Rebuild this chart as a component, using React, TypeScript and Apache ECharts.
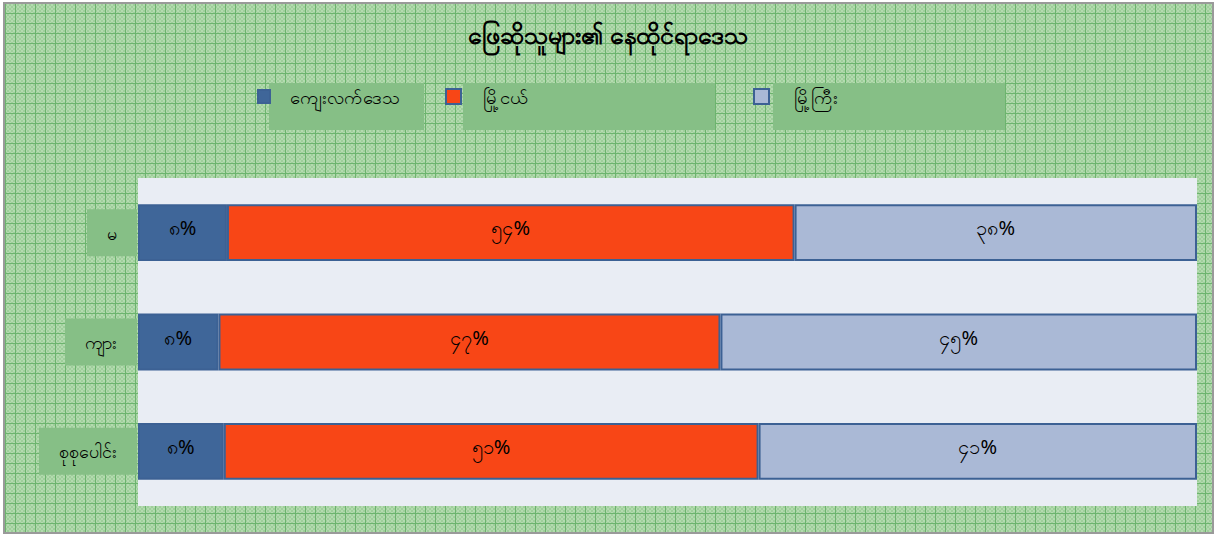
import React, { useEffect, useRef } from "react";
import * as echarts from "echarts";

const title = "ဖြေဆိုသူများ၏ နေထိုင်ရာဒေသ";
const categories = ["မ", "ကျား", "စုစုပေါင်း"];
const seriesNames = ["ကျေးလက်ဒေသ", "မြို့ငယ်", "မြို့ကြီး"];
const rural = [8.4, 7.6, 8.1];
const smallTown = [53.6, 47.4, 50.5];
const city = [38.0, 45.0, 41.4];
const seriesValues = [rural, smallTown, city];
const colors = ["#3F6699", "#F84616", "#AAB9D6"];

const mmDigits = "၀၁၂၃၄၅၆၇၈၉";
const toMM = (n: number) =>
  String(n).replace(/[0-9]/g, (d) => mmDigits[Number(d)]);

const legendIcons = [
  { left: 257, top: 90, w: 12, h: 13, pad: 15 },
  { left: 445, top: 89, w: 15, h: 15, pad: 17 },
  { left: 753, top: 89, w: 15, h: 15, pad: 20 },
];
const legendBoxes = [
  { x: 269, w: 155 },
  { x: 463, w: 252 },
  { x: 773, w: 232 },
];

export default function App() {
  const ref = useRef<HTMLDivElement>(null);
  useEffect(() => {
    document.body.style.margin = "0";
    if (!ref.current) return;
    const chart = echarts.init(ref.current, undefined, { renderer: "svg" });
    const boxFill = "#86BF86";
    chart.setOption({
      animation: false,
      title: {
        text: title,
        left: "center",
        top: 16,
        textStyle: {
          fontSize: 25,
          fontWeight: "bold",
          color: "#000",
          fontFamily: "Noto Sans, sans-serif",
        },
      },
      graphic: legendBoxes.map((b) => ({
        type: "rect",
        z: 0,
        shape: { x: b.x, y: 83, width: b.w, height: 47 },
        style: { fill: boxFill },
        silent: true,
      })),
      legend: seriesNames.map((name, i) => {
        const ic = legendIcons[i];
        const lh = 22;
        const padTop = 23;
        const boxH = lh + padTop;
        const center = ic.top + ic.h / 2;
        return {
          data: [name],
          left: ic.left,
          top: Math.round(center - boxH / 2),
          padding: 0,
          z: 5,
          icon: "rect",
          itemWidth: ic.w,
          itemHeight: ic.h,
          textStyle: {
            fontSize: 18.5,
            color: "#000",
            lineHeight: lh,
            padding: [padTop, 0, 0, ic.pad],
            fontFamily: "Noto Sans, sans-serif",
          },
        };
      }),
      grid: {
        left: 138,
        top: 178,
        width: 1059,
        height: 328,
        show: true,
        backgroundColor: "#E9EDF4",
        borderWidth: 0,
      },
      xAxis: {
        type: "value",
        min: 0,
        max: 100,
        show: false,
      },
      yAxis: {
        type: "category",
        data: categories,
        inverse: true,
        axisLine: { show: false },
        axisTick: { show: false },
        splitLine: { show: false },
        axisLabel: {
          margin: 1,
          color: "#000",
          fontSize: 18,
          lineHeight: 21,
          backgroundColor: boxFill,
          padding: [13, 20, 13, 20],
          fontFamily: "Noto Sans, sans-serif",
        },
      },
      series: seriesNames.map((name, i) => ({
        name,
        type: "bar",
        stack: "total",
        barWidth: "52%",
        data: seriesValues[i],
        itemStyle: {
          color: colors[i],
          borderColor: "#3C6194",
          borderWidth: 2,
        },
        label: {
          show: true,
          position: "inside",
          offset: [0, -5],
          color: "#000",
          fontSize: 20,
          fontFamily: "Noto Sans, sans-serif",
          formatter: (p: any) => toMM(Math.round(p.value)) + "%",
        },
      })),
    });
    return () => chart.dispose();
  }, []);

  const pattern =
    "repeating-linear-gradient(0deg, #6CB46E 0px, #6CB46E 1px, transparent 1px, transparent 10px)," +
    "repeating-linear-gradient(90deg, #6CB46E 0px, #6CB46E 1px, transparent 1px, transparent 10px)," +
    "repeating-conic-gradient(#B3DBAF 0% 25%, #9FCE9B 0% 50%)";

  return (
    <div
      style={{
        position: "fixed",
        left: 0,
        top: 0,
        width: 1216,
        height: 535,
        background: "#fff",
      }}
    >
      <div
        style={{
          position: "absolute",
          left: 3,
          top: 2,
          width: 1211,
          height: 532,
          boxSizing: "border-box",
          border: "2px solid #9A9A9A",
          backgroundImage: pattern,
          backgroundSize: "10px 10px, 10px 10px, 4px 4px",
          backgroundColor: "#A9D4A5",
        }}
      />
      <div
        ref={ref}
        style={{ position: "absolute", left: 0, top: 0, width: 1216, height: 535 }}
      />
    </div>
  );
}
